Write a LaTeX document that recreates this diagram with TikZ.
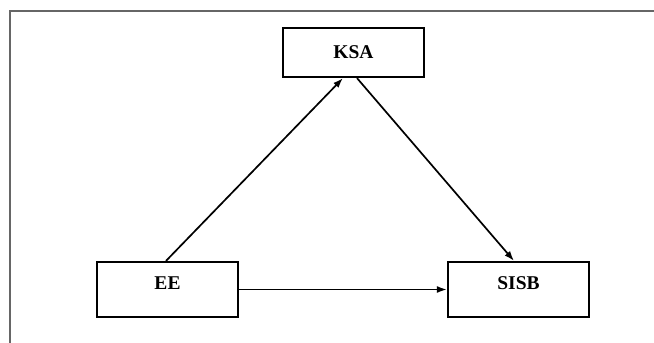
\documentclass[tikz,border=0pt]{standalone}
\usepackage{fontspec}
\setmainfont{Liberation Serif}
\usetikzlibrary{arrows.meta}
\begin{document}
\begin{tikzpicture}[x=1pt,y=-1pt,
  box/.style={draw=black, line width=2.2pt, rectangle, minimum width=141pt, inner sep=0pt,
    font=\fontsize{19.5}{21}\selectfont\bfseries},
  lowbox/.style={box, minimum height=55pt, text height=13pt, text depth=14pt},
  conn/.style={line width=1.7pt, -{Latex[length=10pt,width=7pt]}},
  frame/.style={draw=black!60, line width=1.6pt}]
\useasboundingbox (0,0) rectangle (654,343);
\coordinate (fa) at (10,343);
\coordinate (fb) at (10,11);
\coordinate (fc) at (654,11);
\draw[frame] (fa) -- (fb) -- (fc);
\node[box, minimum height=49pt] (KSA) at (353.5,52.5) {KSA};
\node[lowbox] (EE) at (167.5,289.5) {EE};
\node[lowbox] (SISB) at (518.5,289.5) {SISB};
\draw[conn] ([xshift=-1.5pt]EE.north) -- ([xshift=-10.5pt]KSA.south);
\draw[conn] ([xshift=3.5pt]KSA.south) -- ([xshift=-4.5pt]SISB.north);
\draw[conn] (EE.east) -- (SISB.west);
\end{tikzpicture}
\end{document}
